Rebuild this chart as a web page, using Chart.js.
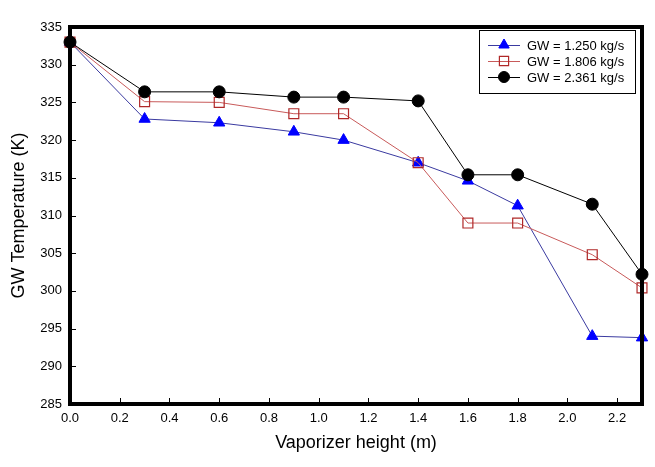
<!DOCTYPE html>
<html>
<head>
<meta charset="utf-8">
<script src="https://cdn.jsdelivr.net/npm/chart.js@4.4.1/dist/chart.umd.min.js"></script>
<style>
  html, body { margin: 0; padding: 0; background: #fff; }
  #wrap { width: 655px; height: 467px; }
</style>
</head>
<body>
<div id="wrap"><canvas id="tempChart"></canvas></div>
<script>
const heights = [0, 0.3, 0.6, 0.9, 1.1, 1.4, 1.6, 1.8, 2.1, 2.3];
const gw1250 = [333, 322.8, 322.3, 321.1, 320.0, 317.0, 314.6, 311.3, 294.0, 293.8];
const gw1806 = [333, 325.1, 325.0, 323.5, 323.5, 317.0, 309.0, 309.0, 304.8, 300.4];
const gw2361 = [333, 326.4, 326.4, 325.7, 325.7, 325.2, 315.4, 315.4, 311.5, 302.2];
const seriesLabels = ['GW = 1.250 kg/s', 'GW = 1.806 kg/s', 'GW = 2.361 kg/s'];
const xTickValues = [0, 0.2, 0.4, 0.6, 0.8, 1.0, 1.2, 1.4, 1.6, 1.8, 2.0, 2.2];
const yTickValues = [285, 290, 295, 300, 305, 310, 315, 320, 325, 330, 335];

const toPoints = (ys) => heights.map((x, i) => ({ x: x, y: ys[i] }));
const FONT = 'Arial, "Liberation Sans", sans-serif';

// thick frame + inward ticks
const framePlugin = {
    id: 'frame',
    afterDraw(chart) {
        const { ctx, chartArea: a, scales } = chart;
        ctx.save();
        ctx.strokeStyle = '#000';
        ctx.lineWidth = 1;
        ctx.beginPath();
        scales.x.ticks.forEach(t => {
            const px = Math.round(scales.x.getPixelForValue(t.value)) + 0.5;
            ctx.moveTo(px, a.bottom);
            ctx.lineTo(px, a.bottom - 6);
        });
        scales.y.ticks.forEach(t => {
            const py = Math.round(scales.y.getPixelForValue(t.value)) + 0.5;
            ctx.moveTo(a.left, py);
            ctx.lineTo(a.left + 6, py);
        });
        ctx.stroke();
        ctx.lineWidth = 4;
        ctx.strokeRect(a.left, a.top, a.right - a.left, a.bottom - a.top);
        ctx.restore();
    }
};

// boxed legend inside the plot, line through marker
const legendPlugin = {
    id: 'boxLegend',
    afterDraw(chart) {
        const ctx = chart.ctx;
        const x0 = 479, y0 = 30, w = 156, h = 63;
        ctx.save();
        ctx.fillStyle = '#fff';
        ctx.fillRect(x0, y0, w, h);
        ctx.strokeStyle = '#000';
        ctx.lineWidth = 1;
        ctx.strokeRect(x0 + 0.5, y0 + 0.5, w, h);
        ctx.font = '13px ' + FONT;
        ctx.textBaseline = 'middle';
        chart.data.datasets.forEach((ds, i) => {
            const y = 45 + i * 16;
            ctx.strokeStyle = ds.borderColor;
            ctx.lineWidth = 1;
            ctx.beginPath();
            ctx.moveTo(488, y + 0.5);
            ctx.lineTo(520, y + 0.5);
            ctx.stroke();
            ctx.fillStyle = ds.pointBackgroundColor;
            ctx.strokeStyle = ds.pointBorderColor;
            ctx.lineWidth = ds.pointBorderWidth;
            Chart.helpers.drawPoint(ctx, { pointStyle: ds.pointStyle, radius: ds.pointRadius - 0.5, borderWidth: ds.pointBorderWidth, rotation: 0 }, 504, y);
            ctx.fillStyle = '#000';
            ctx.fillText(ds.label, 527, y + 1);
        });
        ctx.restore();
    }
};

new Chart(document.getElementById('tempChart').getContext('2d'), {
    type: 'line',
    data: {
        datasets: [{
            label: seriesLabels[0],
            data: toPoints(gw1250),
            borderColor: '#3a3aa0',
            borderWidth: 1,
            pointStyle: 'triangle',
            pointRadius: 6.5,
            pointBackgroundColor: '#0000ff',
            pointBorderColor: '#0000ff',
            pointBorderWidth: 1,
            order: 2
        }, {
            label: seriesLabels[1],
            data: toPoints(gw1806),
            borderColor: '#c85a5a',
            borderWidth: 1,
            pointStyle: 'rect',
            pointRadius: 7,
            pointBackgroundColor: 'rgba(255,255,255,0)',
            pointBorderColor: '#b02828',
            pointBorderWidth: 1.2,
            order: 1
        }, {
            label: seriesLabels[2],
            data: toPoints(gw2361),
            borderColor: '#000000',
            borderWidth: 1,
            pointStyle: 'circle',
            pointRadius: 6,
            pointBackgroundColor: '#000000',
            pointBorderColor: '#000000',
            pointBorderWidth: 1,
            order: 0
        }]
    },
    options: {
        responsive: true,
        maintainAspectRatio: false,
        animation: false,
        layout: { padding: { top: 27, right: 13, left: 0, bottom: 0 } },
        elements: { line: { tension: 0, fill: false } },
        datasets: { line: { clip: false } },
        plugins: {
            legend: { display: false },
            tooltip: { enabled: false }
        },
        scales: {
            x: {
                type: 'linear',
                min: 0,
                max: 2.3,
                afterBuildTicks: (scale) => { scale.ticks = xTickValues.map(v => ({ value: v })); },
                afterFit: (scale) => { scale.height = 63; },
                grid: { display: false, drawTicks: false },
                border: { display: false },
                ticks: {
                    padding: 7,
                    color: '#000',
                    font: { family: FONT, size: 13 },
                    callback: (v) => Number(v).toFixed(1)
                },
                title: {
                    display: true,
                    text: 'Vaporizer height (m)',
                    color: '#000',
                    font: { family: FONT, size: 18 },
                    padding: { top: 0, bottom: 13 }
                }
            },
            y: {
                min: 285,
                max: 335,
                afterBuildTicks: (scale) => { scale.ticks = yTickValues.map(v => ({ value: v })); },
                afterFit: (scale) => { scale.width = 70; },
                grid: { display: false, drawTicks: false },
                border: { display: false },
                ticks: {
                    padding: 8,
                    color: '#000',
                    font: { family: FONT, size: 13 }
                },
                title: {
                    display: true,
                    text: 'GW Temperature (K)',
                    color: '#000',
                    font: { family: FONT, size: 18 },
                    padding: { top: 8, bottom: 0 }
                }
            }
        }
    },
    plugins: [framePlugin, legendPlugin]
});
</script>
</body>
</html>
